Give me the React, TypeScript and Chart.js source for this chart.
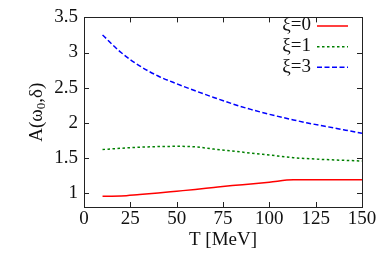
import React, { useEffect, useRef } from "react";
import { Chart, registerables } from "chart.js";

Chart.register(...registerables);

const temps = [10, 20, 30, 40, 50, 60, 70, 80, 90, 100, 113, 120, 130, 140, 150];
const xi0 = [0.954, 0.957, 0.978, 1.0, 1.025, 1.05, 1.078, 1.105, 1.128, 1.153, 1.187, 1.187, 1.188, 1.188, 1.188];
const xi1 = [1.618, 1.637, 1.652, 1.66, 1.664, 1.657, 1.625, 1.597, 1.568, 1.54, 1.502, 1.49, 1.476, 1.465, 1.455];
const xi3 = [3.25, 3.0, 2.81, 2.665, 2.555, 2.455, 2.36, 2.27, 2.19, 2.12, 2.04, 2.0, 1.95, 1.9, 1.85];
const xTicks = [0, 25, 50, 75, 100, 125, 150];
const yTicks = [1, 1.5, 2, 2.5, 3, 3.5];
const seriesLabels = ["ξ=0", "ξ=1", "ξ=3"];
const FONT = "'Liberation Serif', 'Times New Roman', 'DejaVu Serif', serif";
const FS = 19;

const framePlugin = {
  id: "frame",
  afterDraw(chart: any) {
    const { ctx, chartArea: a, scales } = chart;
    const xs = scales.x, ys = scales.y;
    ctx.save();
    ctx.strokeStyle = "#222";
    ctx.lineWidth = 1;
    ctx.strokeRect(Math.round(a.left) + 0.5, Math.round(a.top) + 0.5, Math.round(a.right - a.left), Math.round(a.bottom - a.top));
    const tl = 5;
    ctx.beginPath();
    xTicks.forEach((v) => {
      const px = Math.round(xs.getPixelForValue(v)) + 0.5;
      ctx.moveTo(px, a.bottom); ctx.lineTo(px, a.bottom - tl);
      ctx.moveTo(px, a.top); ctx.lineTo(px, a.top + tl);
    });
    yTicks.forEach((v) => {
      const py = Math.round(ys.getPixelForValue(v)) + 0.5;
      ctx.moveTo(a.left, py); ctx.lineTo(a.left + tl, py);
      ctx.moveTo(a.right, py); ctx.lineTo(a.right - tl, py);
    });
    ctx.stroke();

    // legend
    ctx.font = `${FS}px ${FONT}`;
    ctx.fillStyle = "#111";
    ctx.textAlign = "right";
    ctx.textBaseline = "middle";
    const rows = [26, 46.7, 67.3];
    chart.data.datasets.forEach((ds: any, i: number) => {
      const y = rows[i];
      ctx.fillText(ds.label, 311, y - 0.5);
      ctx.save();
      ctx.strokeStyle = ds.borderColor;
      ctx.lineWidth = ds.borderWidth;
      ctx.setLineDash(ds.borderDash || []);
      ctx.beginPath();
      ctx.moveTo(317, y);
      ctx.lineTo(348, y);
      ctx.stroke();
      ctx.restore();
    });

    // axis titles
    ctx.textAlign = "center";
    ctx.textBaseline = "middle";
    ctx.fillText("T [MeV]", (a.left + a.right) / 2, 240);

    ctx.save();
    ctx.translate(37, (a.top + a.bottom) / 2);
    ctx.rotate(-Math.PI / 2);
    const p1 = "A(ω", p2 = "0", p3 = ",δ)";
    ctx.font = `${FS}px ${FONT}`;
    const w1 = ctx.measureText(p1).width;
    const w3 = ctx.measureText(p3).width;
    ctx.font = `13px ${FONT}`;
    const w2 = ctx.measureText(p2).width;
    const total = w1 + w2 + w3;
    let x = -total / 2;
    ctx.textAlign = "left";
    ctx.font = `${FS}px ${FONT}`;
    ctx.fillText(p1, x, 0);
    x += w1;
    ctx.font = `13px ${FONT}`;
    ctx.fillText(p2, x, 5);
    x += w2;
    ctx.font = `${FS}px ${FONT}`;
    ctx.fillText(p3, x, 0);
    ctx.restore();

    ctx.restore();
  },
};

export default function App() {
  const ref = useRef<HTMLCanvasElement>(null);
  useEffect(() => {
    let chart: any = null;
    let cancelled = false;
    const build = () => {
      if (cancelled || !ref.current) return;
      const mk = (vals: number[]) => temps.map((t, i) => ({ x: t, y: vals[i] }));
      chart = new Chart(ref.current, {
        type: "line",
        data: {
          datasets: [
            { label: seriesLabels[0], data: mk(xi0), borderColor: "#ff0000", borderWidth: 1.5, pointRadius: 0, cubicInterpolationMode: "monotone", fill: false },
            { label: seriesLabels[1], data: mk(xi1), borderColor: "#008000", borderWidth: 1.5, borderDash: [2.5, 2.5], pointRadius: 0, cubicInterpolationMode: "monotone", fill: false },
            { label: seriesLabels[2], data: mk(xi3), borderColor: "#0000ff", borderWidth: 1.5, borderDash: [5, 2.5], pointRadius: 0, cubicInterpolationMode: "monotone", fill: false },
          ],
        },
        options: {
          animation: false,
          responsive: false,
          devicePixelRatio: 1,
          layout: { padding: { left: 0, right: 20, top: 13, bottom: 0 } },
          plugins: { legend: { display: false }, tooltip: { enabled: false } },
          scales: {
            x: {
              type: "linear",
              min: 0,
              max: 150,
              grid: { display: false, drawTicks: false },
              border: { display: false },
              afterBuildTicks: (s: any) => { s.ticks = xTicks.map((v) => ({ value: v })); },
              afterFit: (s: any) => { s.height = 69; },
              ticks: { padding: 1, color: "#111", font: { family: FONT, size: FS }, maxRotation: 0, autoSkip: false },
            },
            y: {
              type: "linear",
              min: 0.8,
              max: 3.5,
              grid: { display: false, drawTicks: false },
              border: { display: false },
              afterBuildTicks: (s: any) => { s.ticks = yTicks.map((v) => ({ value: v })); },
              afterFit: (s: any) => { s.width = 84; },
              ticks: { padding: 6, color: "#111", font: { family: FONT, size: FS }, autoSkip: false, callback: (v: any) => String(v) },
            },
          },
        },
        plugins: [framePlugin],
      });
    };
    const fonts: any = (document as any).fonts;
    if (fonts && fonts.load) {
      Promise.all([
        fonts.load(`${FS}px 'Liberation Serif'`),
        fonts.load("13px 'Liberation Serif'"),
      ]).then(build, build);
    } else {
      build();
    }
    return () => {
      cancelled = true;
      if (chart) chart.destroy();
    };
  }, []);
  return (
    <div style={{ position: "fixed", left: 0, top: 0, width: 382, height: 276, background: "#fff", fontFamily: "'Liberation Serif', serif" }}>
      <span style={{ position: "absolute", left: -9999, fontFamily: "'Liberation Serif'" }}>ξ=0 A(ω0,δ)</span>
      <canvas ref={ref} width={382} height={276} />
    </div>
  );
}
